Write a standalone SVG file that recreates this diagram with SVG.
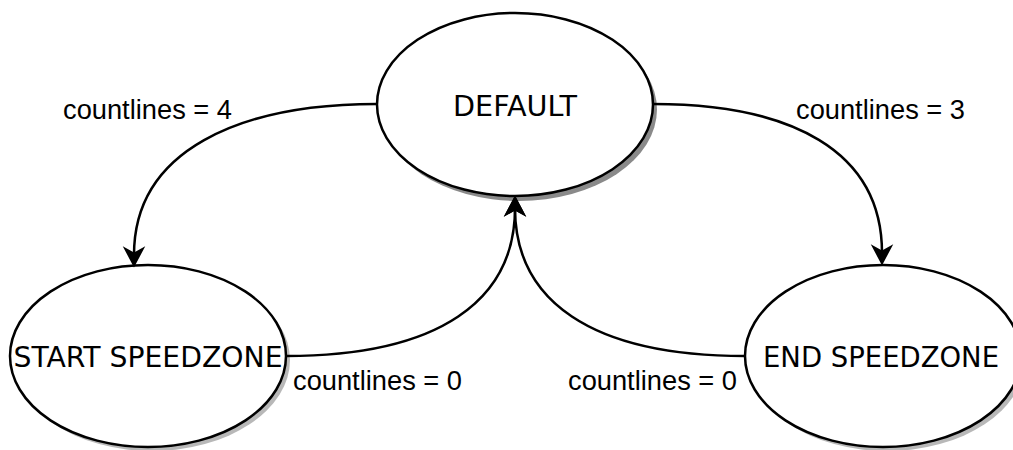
<svg xmlns="http://www.w3.org/2000/svg" width="1013" height="450" viewBox="0 0 1013 450">
  <style>
    .shadow { fill: #b8b8b8; stroke: none; }
    .shadow-dark { fill: #8a8a8a; stroke: none; }
    .state { fill: #ffffff; stroke: #000000; stroke-width: 2.5; }
    .state-label { font-family: "DejaVu Sans", sans-serif; font-size: 28.5px; fill: #000000; text-anchor: middle; }
    .edge { fill: none; stroke: #000000; stroke-width: 2.5; }
    .edge-label { font-family: "Liberation Sans", Arial, sans-serif; font-size: 27.5px; fill: #000000; }
  </style>
  <defs>
    <marker id="arrow" markerUnits="userSpaceOnUse" markerWidth="30" markerHeight="30" viewBox="-10 -12 24 24" refX="0" refY="0" orient="auto" overflow="visible">
      <path d="M10,0 L-7,-9 L-2,0 L-7,9 Z" fill="#000000"/>
    </marker>
  </defs>

  <rect width="1013" height="450" fill="#ffffff"/>

  <!-- states -->
  <g id="state-default">
    <ellipse class="shadow-dark" cx="519" cy="109.5" rx="138" ry="91.5"/>
    <ellipse class="state" cx="515" cy="104.5" rx="138" ry="91.5"/>
    <text class="state-label" x="515" y="116" textLength="124" lengthAdjust="spacingAndGlyphs">DEFAULT</text>
  </g>
  <g id="state-start-speedzone">
    <ellipse class="shadow" cx="152" cy="360" rx="138" ry="91"/>
    <ellipse class="state" cx="148" cy="356" rx="138" ry="91"/>
    <text class="state-label" x="148" y="367" textLength="269" lengthAdjust="spacingAndGlyphs">START SPEEDZONE</text>
  </g>
  <g id="state-end-speedzone">
    <ellipse class="shadow" cx="887" cy="360" rx="138" ry="91"/>
    <ellipse class="state" cx="883" cy="356" rx="138" ry="91"/>
    <text class="state-label" x="881" y="367" textLength="236" lengthAdjust="spacingAndGlyphs">END SPEEDZONE</text>
  </g>

  <!-- transitions -->
  <g id="connectors">
    <path class="edge" d="M377,104 C240,104 134,150 134,255" marker-end="url(#arrow)"/>
    <path class="edge" d="M653,104 C790,104 882,150 882,253" marker-end="url(#arrow)"/>
    <path class="edge" d="M286,356 C440,356 515,300 515,208" marker-end="url(#arrow)"/>
    <path class="edge" d="M745,356 C590,356 515,300 515,208" marker-end="url(#arrow)"/>
  </g>

  <!-- transition labels -->
  <g id="edge-labels">
    <text class="edge-label" x="63" y="119" textLength="169" lengthAdjust="spacingAndGlyphs">countlines = 4</text>
    <text class="edge-label" x="796" y="119" textLength="169" lengthAdjust="spacingAndGlyphs">countlines = 3</text>
    <text class="edge-label" x="293" y="390" textLength="169" lengthAdjust="spacingAndGlyphs">countlines = 0</text>
    <text class="edge-label" x="568" y="390" textLength="169" lengthAdjust="spacingAndGlyphs">countlines = 0</text>
  </g>
</svg>
